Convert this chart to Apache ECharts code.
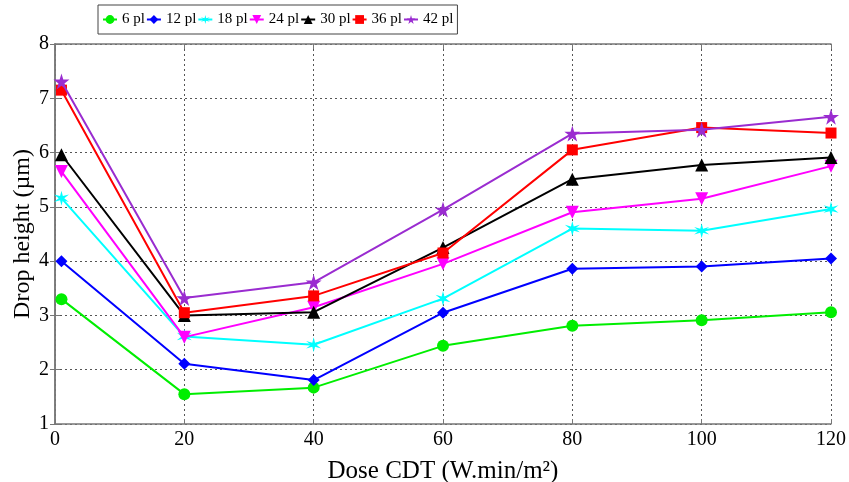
<!DOCTYPE html>
<html>
<head>
<meta charset="utf-8">
<script src="https://cdn.jsdelivr.net/npm/echarts@6/dist/echarts.min.js"></script>
<style>
  html, body { margin: 0; padding: 0; background: #fff; }
  #chart { width: 849px; height: 482px; }
</style>
</head>
<body>
<div id="chart"></div>
<script>
var doses = [1, 20, 40, 60, 80, 100, 120];
var names = ['6 pl', '12 pl', '18 pl', '24 pl', '30 pl', '36 pl', '42 pl'];
var pl6  = [3.3, 1.55, 1.67, 2.44, 2.81, 2.91, 3.06];
var pl12 = [4.0, 2.11, 1.81, 3.05, 3.86, 3.9, 4.05];
var pl18 = [5.16, 2.61, 2.46, 3.31, 4.6, 4.56, 4.96];
var pl24 = [5.65, 2.6, 3.15, 3.95, 4.9, 5.15, 5.75];
var pl30 = [5.96, 3.0, 3.06, 4.25, 5.51, 5.77, 5.91];
var pl36 = [7.15, 3.05, 3.36, 4.15, 6.05, 6.46, 6.36];
var pl42 = [7.31, 3.32, 3.61, 4.95, 6.35, 6.42, 6.66];

var colors = ['#00ee00', '#0000ff', '#00ffff', '#ff00ff', '#000000', '#ff0000', '#9a2cd0'];
var star5 = 'path://M50,0 L61,35 L98,35 L68,57 L79,91 L50,70 L21,91 L32,57 L2,35 L39,35 Z';
var star6 = 'path://M50,0 L58,36 L93,25 L66,50 L93,75 L58,64 L50,100 L42,64 L7,75 L34,50 L7,25 L42,36 Z';
var symbols = ['circle', 'diamond', star6, 'path://M0,0 L100,0 L50,90 Z', 'triangle', 'rect', star5];
var sizes = [12, 12, 15, 13, 13, 11, 16];
var values = [pl6, pl12, pl18, pl24, pl30, pl36, pl42];

var chart = echarts.init(document.getElementById('chart'));
var font = 'Liberation Serif';

var series = names.map(function(n, i) {
  return {
    name: n, type: 'line',
    data: doses.map(function(d, k) { return [d, values[i][k]]; }),
    symbol: symbols[i], symbolSize: sizes[i],
    lineStyle: { color: colors[i], width: 2 },
    itemStyle: { color: colors[i] },
    z: 2 + i
  };
});

chart.setOption({
  animation: false,
  backgroundColor: '#fff',
  legend: {
    top: 5, left: 98,
    data: names,
    itemWidth: 14, itemHeight: 11, itemGap: 1,
    padding: [7, 4, 7, 4],
    borderColor: '#444', borderWidth: 1, backgroundColor: '#fff',
    textStyle: { fontFamily: font, fontSize: 15, color: '#000' }
  },
  grid: { left: 55, right: 18, top: 44, bottom: 58, outerBoundsMode: 'none' },
  xAxis: [{
    type: 'value', min: 0, max: 120, interval: 20,
    name: 'Dose CDT (W.min/m²)', nameLocation: 'middle', nameGap: 35, nameMoveOverlap: false,
    nameTextStyle: { fontFamily: font, fontSize: 25, color: '#000' },
    axisLine: { onZero: false, lineStyle: { color: '#777', width: 1.5 } },
    axisTick: { inside: true, length: 5, lineStyle: { color: '#777' } },
    axisLabel: { fontFamily: font, fontSize: 20, color: '#000', margin: 6 },
    splitLine: { show: true, lineStyle: { color: '#555', type: [2, 3], width: 1 } }
  }, {
    type: 'value', position: 'top', min: 0, max: 120, interval: 20,
    axisLine: { show: true, lineStyle: { color: '#777', width: 1.5 } },
    axisTick: { inside: true, length: 5, lineStyle: { color: '#777' } },
    axisLabel: { show: false }, splitLine: { show: false }
  }],
  yAxis: [{
    type: 'value', min: 1, max: 8, interval: 1,
    name: 'Drop height (µm)', nameLocation: 'middle', nameGap: 20, nameMoveOverlap: false,
    nameTextStyle: { fontFamily: font, fontSize: 24, color: '#000' },
    axisLine: { show: true, lineStyle: { color: '#777', width: 1.5 } },
    axisTick: { show: true, inside: true, length: 5, lineStyle: { color: '#777' } },
    axisLabel: { fontFamily: font, fontSize: 20, color: '#000', margin: 6 },
    splitLine: { show: true, lineStyle: { color: '#555', type: [2, 3], width: 1 } }
  }, {
    type: 'value', position: 'right', min: 1, max: 8, interval: 1,
    axisLine: { show: true, lineStyle: { color: '#777', width: 1.5 } },
    axisTick: { show: true, inside: true, length: 5, lineStyle: { color: '#777' } },
    axisLabel: { show: false }, splitLine: { show: false }
  }],
  series: series
});
</script>
</body>
</html>
